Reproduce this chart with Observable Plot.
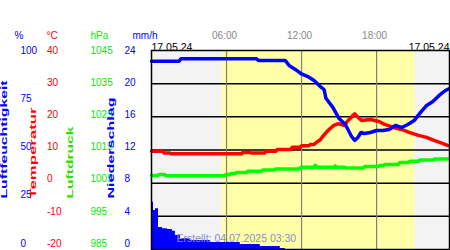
<!DOCTYPE html>
<html><head><meta charset="utf-8">
<script src="https://cdn.jsdelivr.net/npm/d3@7"></script>
<script src="https://cdn.jsdelivr.net/npm/@observablehq/plot@0.6"></script>
<style>html,body{margin:0;padding:0;background:#fff;} svg{display:block;}</style>
</head><body><div id="chart"></div>
<script>
// ---- tick labels / texts ----
const humTicks = [0, 25, 50, 75, 100];
const tempTicks = [-20, -10, 0, 10, 20, 30, 40];
const presTicks = [985, 995, 1005, 1015, 1025, 1035, 1045];
const rainTicks = [0, 4, 8, 12, 16, 20, 24];
const units = ["%", "°C", "hPa", "mm/h"];
const axisTitles = ["Luftfeuchtigkeit", "Temperatur", "Luftdruck", "Niederschlag"];
const timeTicks = [6, 12, 18];
const timeLabels = ["06:00", "12:00", "18:00"];
const dateLabel = "17.05.24";
const caption = "Erstellt: 04.07.2025 03:30";
const sunrise = 5.66, sunset = 21.04, dayEnd = 23.83;

// ---- series (hours of day, values) ----
const humT = [0, 2.2, 2.35, 8.4, 8.55, 10.7, 11, 11.5, 12, 12.5, 13, 13.5, 13.8, 13.95, 14.5, 15, 15.5, 16, 16.25, 16.5, 16.75, 17, 17.5, 18, 18.5, 19, 19.5, 20, 20.5, 21, 21.5, 22, 22.5, 23, 23.5, 23.83];
const humV = [94.6, 94.6, 95.8, 95.8, 95.0, 95.0, 92.5, 90.5, 88.2, 86.9, 84.9, 81.9, 80.4, 76.0, 71.4, 65.8, 62.8, 56.8, 54.8, 56.3, 58.8, 58.3, 58.8, 59.8, 59.8, 60.3, 62.3, 61.3, 62.8, 64.8, 68.8, 72.4, 74.4, 77.4, 79.9, 80.9];

const tempT = [0, 0.9, 1.0, 1.45, 1.55, 7.2, 7.3, 7.85, 7.95, 9.05, 9.15, 9.95, 10.05, 11.15, 11.25, 11.9, 12.0, 12.6, 12.7, 13.0, 13.2, 13.5, 13.7, 14.0, 14.26, 14.58, 14.9, 15.2, 15.46, 15.6, 15.86, 16.1, 16.25, 16.5, 16.8, 17.5, 18.2, 18.65, 19.35, 20.0, 20.6, 21.35, 22.0, 22.6, 23.27, 23.67, 23.83];
const tempV = [9.64, 9.64, 9.1, 9.1, 8.85, 8.85, 9.25, 9.25, 9.1, 9.1, 9.64, 9.64, 10.15, 10.15, 10.8, 10.8, 11.3, 11.3, 11.65, 11.65, 12.35, 13.1, 14.1, 15.4, 16.4, 17.4, 17.9, 17.7, 17.4, 18.4, 19.4, 20.4, 20.9, 19.9, 18.9, 19.2, 18.6, 17.7, 16.8, 16.2, 15.3, 14.4, 13.8, 12.9, 12.0, 11.4, 11.3];

const presT = [0, 0.5, 0.6, 1.05, 1.15, 5.85, 5.95, 6.3, 6.4, 6.7, 6.8, 7.6, 7.7, 8.8, 8.9, 9.85, 9.95, 11.85, 11.95, 13.0, 13.1, 13.2, 14.6, 14.7, 14.8, 15.45, 15.55, 16.95, 17.05, 18.15, 18.25, 18.55, 18.65, 19.75, 19.85, 20.55, 20.65, 21.35, 21.45, 22.55, 22.65, 23.83];
const presV = [1007.3, 1007.3, 1007.6, 1007.6, 1007.2, 1007.2, 1007.6, 1007.6, 1007.95, 1007.95, 1008.2, 1008.2, 1008.6, 1008.6, 1009.0, 1009.0, 1009.3, 1009.3, 1009.8, 1009.8, 1010.4, 1009.8, 1009.8, 1010.2, 1009.8, 1009.8, 1009.6, 1009.6, 1010.0, 1010.0, 1010.3, 1010.3, 1010.6, 1010.6, 1011.2, 1011.2, 1011.6, 1011.6, 1012.0, 1012.0, 1012.3, 1012.3];

const rainT = [0, 0.16, 0.32, 0.56, 0.88, 1.27, 1.67, 1.91, 2.31, 3.1, 4.7, 7.1, 8.7, 10.3, 10.7];
const rainV = [5.7, 4.7, 4.9, 2.65, 2.5, 2.4, 2.2, 1.7, 1.3, 1.1, 0.85, 0.6, 0.36, 0.12, 0];

// ---- styling ----
const BLUE = "#0000ff", RED = "#ff0000", GREEN = "#00ee00", PGREEN = "#33dd00";
const FONT = "Liberation Sans, Arial, sans-serif";
const toPct = (v, lo, hi) => (v - lo) / (hi - lo) * 100;
const labelPos = (v, lo, hi) => 3 + (v - lo) / (hi - lo) * 97;
const zip = (t, v) => t.map((x, i) => ({t: x, v: v[i]}));

const ML = 151, MT = 50;
const cols = [
  {ticks: humTicks, lo: 0, hi: 100, color: BLUE, x: 20},
  {ticks: tempTicks, lo: -20, hi: 40, color: RED, x: 46.5},
  {ticks: presTicks, lo: 985, hi: 1045, color: GREEN, x: 90},
  {ticks: rainTicks, lo: 0, hi: 24, color: BLUE, x: 124}
];
const unitX = [14, 46, 90, 132];
const unitColor = [BLUE, RED, GREEN, BLUE];
const titleX = [6, 35, 72, 113];
const titleColor = [BLUE, RED, PGREEN, BLUE];
const titleLen = [118, 91, 72, 101];

const marks = [
  Plot.rect([[0, sunrise], [sunset, dayEnd]], {x1: d => d[0], x2: d => d[1], fill: "#f3f3f3"}),
  Plot.rect([[sunrise, sunset]], {x1: d => d[0], x2: d => d[1], fill: "#ffffa8"}),
  Plot.ruleY(tempTicks.slice(1, -1), {y: d => toPct(d, -20, 40), stroke: "black", strokeWidth: 1.5}),
  Plot.ruleX(timeTicks, {x: d => d, stroke: "#808080", strokeWidth: 1.2}),
  Plot.areaY(zip(rainT, rainV), {x: "t", y: d => toPct(d.v, 0, 24), curve: "step-after", fill: BLUE}),
  Plot.line(zip(presT, presV), {x: "t", y: d => toPct(d.v, 985, 1045), stroke: "#00ff00", strokeWidth: 3.5}),
  Plot.line(zip(tempT, tempV), {x: "t", y: d => toPct(d.v, -20, 40), stroke: RED, strokeWidth: 3.5}),
  Plot.line(zip(humT, humV), {x: "t", y: "v", stroke: BLUE, strokeWidth: 3.5}),
  Plot.frame({stroke: "black", strokeWidth: 1.5}),
  Plot.text([caption], {frameAnchor: "bottom-left", dx: 25, dy: -8, textAnchor: "start", fill: "#8c8cc8", fontSize: 10.5, text: d => d}),
  Plot.text(timeTicks, {x: d => d, frameAnchor: "top", dy: -19, dx: -2, text: (d, i) => timeLabels[i], fill: "#888888", fontSize: 10}),
  Plot.text([dateLabel], {frameAnchor: "top-left", dy: -7, textAnchor: "start", fill: "black", fontSize: 10.5, text: d => d}),
  Plot.text([dateLabel], {frameAnchor: "top-right", dy: -7, textAnchor: "end", fill: "black", fontSize: 10.5, text: d => d})
];
units.forEach((u, i) => marks.push(
  Plot.text([u], {frameAnchor: "top-left", dx: unitX[i] - ML, dy: -19, text: d => d, fill: unitColor[i], fontSize: 10})
));
cols.forEach(c => marks.push(
  Plot.text(c.ticks, {frameAnchor: "left", y: d => labelPos(d, c.lo, c.hi), dx: c.x - ML, text: d => String(d), fill: c.color, fontSize: 10})
));
axisTitles.forEach((t, i) => marks.push(
  Plot.text([t], {frameAnchor: "bottom-left", rotate: -90, textAnchor: "start", dx: titleX[i] - ML, dy: 198 - 249, text: d => d, fill: titleColor[i], fontSize: 8.5, fontWeight: "bold"})
));

const plot = Plot.plot({
  width: 450, height: 250,
  marginLeft: ML, marginTop: MT, marginRight: 1, marginBottom: 1,
  x: {domain: [0, dayEnd], axis: null},
  y: {domain: [0, 100], axis: null},
  style: {fontFamily: FONT, fontSize: "10px", background: "white", overflow: "visible"},
  marks
});
document.getElementById("chart").appendChild(plot);
d3.select(plot).selectAll("text").each(function() {
  const i = axisTitles.indexOf(this.textContent);
  if (i >= 0) {
    this.setAttribute("textLength", titleLen[i]);
    this.setAttribute("lengthAdjust", "spacingAndGlyphs");
  }
});
</script></body></html>
